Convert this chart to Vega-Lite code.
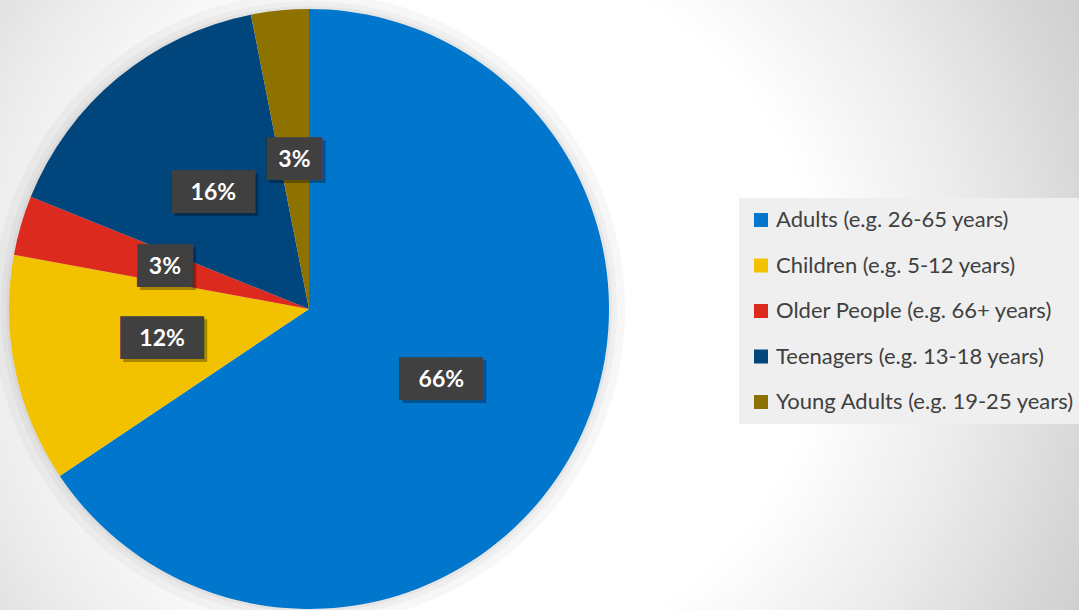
{
  "$schema": "https://vega.github.io/schema/vega-lite/v6.json",
  "width": 1079,
  "height": 618,
  "padding": 0,
  "autosize": {"type": "none"},
  "background": "#ffffff",
  "config": {"view": {"stroke": null}},
  "data": {
    "values": [
      {"category": "Adults (e.g. 26-65 years)", "value": 0.656},
      {"category": "Children (e.g. 5-12 years)", "value": 0.123},
      {"category": "Older People (e.g. 66+ years)", "value": 0.032},
      {"category": "Teenagers (e.g. 13-18 years)", "value": 0.158},
      {"category": "Young Adults (e.g. 19-25 years)", "value": 0.031}
    ]
  },
  "layer": [
    {
      "data": {"values": [{"backdrop": 1}]},
      "mark": {
        "type": "rect",
        "color": {
          "gradient": "radial",
          "x1": 0.4356, "y1": 0.5, "r1": 0,
          "x2": 0.4356, "y2": 0.5, "r2": 0.6488,
          "stops": [
            {"offset": 0, "color": "#ffffff"},
            {"offset": 0.5, "color": "#ffffff"},
            {"offset": 0.72, "color": "#ebebeb"},
            {"offset": 0.8, "color": "#e2e2e2"},
            {"offset": 0.886, "color": "#d8d8d8"},
            {"offset": 0.976, "color": "#cfcfcf"},
            {"offset": 1, "color": "#cdcdcd"}
          ]
        }
      },
      "encoding": {}
    },
    {
      "data": {"values": [{"shadow": 1}]},
      "mark": {"type": "arc", "theta": 0, "theta2": 6.2832, "radius": 316, "color": "#000000", "opacity": 0.03, "x": {"expr": "height/2"}, "y": {"expr": "height/2"}},
      "encoding": {}
    },
    {
      "data": {"values": [{"shadow": 1}]},
      "mark": {"type": "arc", "theta": 0, "theta2": 6.2832, "radius": 308, "color": "#000000", "opacity": 0.03, "x": {"expr": "height/2"}, "y": {"expr": "height/2"}},
      "encoding": {}
    },
    {
      "data": {"values": [{"shadow": 1}]},
      "mark": {"type": "arc", "theta": 0, "theta2": 6.2832, "radius": 303, "color": "#000000", "opacity": 0.04, "x": {"expr": "height/2"}, "y": {"expr": "height/2"}},
      "encoding": {}
    },
    {
      "mark": {"type": "arc", "radius": 300, "x": {"expr": "height/2"}, "y": {"expr": "height/2"}},
      "encoding": {
        "theta": {"field": "value", "type": "quantitative", "stack": true},
        "order": {"field": "category", "sort": "ascending"},
        "color": {
          "field": "category",
          "type": "nominal",
          "scale": {
            "domain": ["Adults (e.g. 26-65 years)", "Children (e.g. 5-12 years)", "Older People (e.g. 66+ years)", "Teenagers (e.g. 13-18 years)", "Young Adults (e.g. 19-25 years)"],
            "range": ["#0076cc", "#f2c200", "#dc2a1e", "#00457c", "#8d7200"]
          },
          "legend": {
            "orient": "none",
            "legendX": 739,
            "legendY": 198,
            "title": null,
            "symbolType": "square",
            "symbolSize": 196,
            "symbolStrokeWidth": 0,
            "labelFont": "Lato",
            "labelFontSize": 22,
            "labelColor": "#404040",
            "labelLimit": 400,
            "labelOffset": 4,
            "rowPadding": 23.5,
            "fillColor": "#efefef",
            "padding": 11
          }
        }
      }
    },
    {
      "mark": {"type": "text", "font": "DejaVu Sans", "fontSize": 36, "color": "#000000", "opacity": 0.3, "dx": 3, "dy": 3, "baseline": "middle", "align": "center",
               "text": {"expr": "replace(format(datum.value, '.0%'), regexp('.', 'g'), '\u2588')"},
               "x": {"expr": "height/2"}, "y": {"expr": "height/2"}},
      "encoding": {
        "theta": {"field": "value", "type": "quantitative", "stack": true},
        "order": {"field": "category", "sort": "ascending"},
        "detail": {"field": "category", "type": "nominal"},
        "radius": {"value": 150}
      }
    },
    {
      "mark": {"type": "text", "font": "DejaVu Sans", "fontSize": 36, "color": "#404040", "baseline": "middle", "align": "center",
               "text": {"expr": "replace(format(datum.value, '.0%'), regexp('.', 'g'), '\u2588')"},
               "x": {"expr": "height/2"}, "y": {"expr": "height/2"}},
      "encoding": {
        "theta": {"field": "value", "type": "quantitative", "stack": true},
        "order": {"field": "category", "sort": "ascending"},
        "detail": {"field": "category", "type": "nominal"},
        "radius": {"value": 150}
      }
    },
    {
      "mark": {"type": "text", "font": "Lato", "fontSize": 23, "fontWeight": "bold", "color": "#ffffff", "baseline": "middle", "align": "center",
               "x": {"expr": "height/2"}, "y": {"expr": "height/2"}},
      "encoding": {
        "theta": {"field": "value", "type": "quantitative", "stack": true},
        "order": {"field": "category", "sort": "ascending"},
        "detail": {"field": "category", "type": "nominal"},
        "radius": {"value": 150},
        "text": {"field": "value", "type": "quantitative", "format": ".0%"}
      }
    }
  ]
}
